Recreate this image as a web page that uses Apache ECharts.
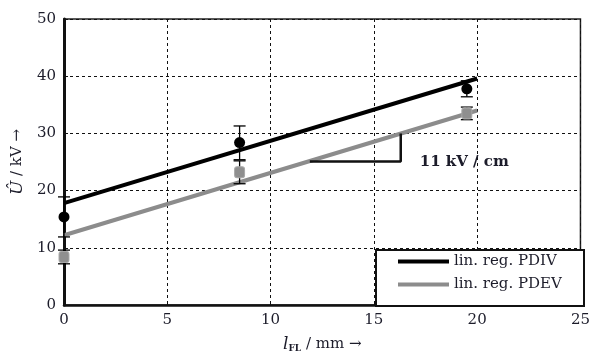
<!DOCTYPE html>
<html>
<head>
<meta charset="utf-8">
<script src="https://cdn.jsdelivr.net/npm/echarts@6/dist/echarts.min.js"></script>
<style>html,body{margin:0;padding:0;background:#fff}#c{width:593px;height:358px}</style>
</head>
<body>
<div id="c"></div>
<script>
// ---- data ----
const xTicks = [0, 5, 10, 15, 20, 25];
const yTicks = [0, 10, 20, 30, 40, 50];
const measX = [0, 8.5, 19.5];
const pdivMean = [15.4, 28.4, 37.8];
const pdivLow = [11.9, 25.4, 36.4];
const pdivHigh = [18.9, 31.3, 39.2];
const pdevMean = [8.4, 23.2, 33.5];
const pdevLow = [7.2, 21.2, 32.4];
const pdevHigh = [9.6, 25.2, 34.6];
const regX = [0, 20];
const pdivReg = [17.8, 39.6];
const pdevReg = [12.2, 34.0];
const slopeX = [11.9, 16.3, 16.3];
const slopeY = [25.1, 25.1, 30.0];
const slopeLabel = '11 kV / cm';
const seriesNames = ['lin. reg. PDIV', 'lin. reg. PDEV'];

const FONT = 'DejaVu Serif';
const TXT = '#1c1c2a';
const zip = (a, b) => a.map((v, i) => [v, b[i]]);
const zip3 = (a, b, c) => a.map((v, i) => [v, b[i], c[i]]);

function errBar(params, api) {
  const x = api.value(0), lo = api.value(1), hi = api.value(2);
  const p1 = api.coord([x, lo]), p2 = api.coord([x, hi]);
  const hw = 6;
  const st = { stroke: '#000', lineWidth: 1.3 };
  return { type: 'group', children: [
    { type: 'line', shape: { x1: p1[0], y1: p1[1], x2: p2[0], y2: p2[1] }, style: st },
    { type: 'line', shape: { x1: p1[0] - hw, y1: p1[1], x2: p1[0] + hw, y2: p1[1] }, style: st },
    { type: 'line', shape: { x1: p2[0] - hw, y1: p2[1], x2: p2[0] + hw, y2: p2[1] }, style: st }
  ]};
}

const chart = echarts.init(document.getElementById('c'), null, { renderer: 'canvas' });
chart.setOption({
  animation: false,
  backgroundColor: '#fff',
  textStyle: { fontFamily: FONT },
  grid: { left: 64, right: 10, top: 19, bottom: 53, show: true, borderColor: '#222', borderWidth: 1.5, backgroundColor: 'transparent' },
  xAxis: {
    type: 'value', min: xTicks[0], max: xTicks[xTicks.length - 1], interval: 5,
    axisLine: { lineStyle: { color: '#111', width: 2.5 } },
    axisTick: { show: true, inside: true, length: 4, lineStyle: { color: '#111', width: 1 } },
    axisLabel: { color: TXT, fontFamily: FONT, fontSize: 15, margin: 8 },
    splitLine: { show: true, lineStyle: { color: '#111', type: [3, 3], width: 1 } },
    name: '{i|l}{sub|FL}{n| / mm →}', nameLocation: 'middle', nameGap: 31,
    nameTextStyle: { rich: {
      i: { fontFamily: FONT, fontStyle: 'italic', fontSize: 17, color: TXT },
      sub: { fontFamily: FONT, fontSize: 9, fontWeight: 'bold', color: TXT, verticalAlign: 'bottom', padding: [8, 0, 0, 0] },
      n: { fontFamily: FONT, fontSize: 15, color: TXT }
    } }
  },
  yAxis: {
    type: 'value', min: yTicks[0], max: yTicks[yTicks.length - 1], interval: 10,
    axisLine: { lineStyle: { color: '#111', width: 3 } },
    axisTick: { show: true, inside: true, length: 4, lineStyle: { color: '#111', width: 1 } },
    axisLabel: { color: TXT, fontFamily: FONT, fontSize: 15, margin: 8 },
    splitLine: { show: true, lineStyle: { color: '#111', type: [3, 3], width: 1 } },
    name: '{i|Û}{n| / kV →}', nameLocation: 'middle', nameGap: 31, nameRotate: 90,
    nameTextStyle: { rich: {
      i: { fontFamily: FONT, fontStyle: 'italic', fontSize: 17, color: TXT },
      n: { fontFamily: FONT, fontSize: 15, color: TXT }
    } }
  },
  legend: {
    data: seriesNames, orient: 'vertical', left: 398, top: 254, itemGap: 8,
    itemWidth: 51, itemHeight: 4, icon: 'rect', z: 10,
    textStyle: { fontFamily: FONT, fontSize: 15, color: TXT, padding: [0, 0, 0, 0] },
    padding: 0
  },
  graphic: [{
    type: 'rect', z: 9, left: 375, top: 249,
    shape: { width: 208, height: 56 },
    style: { fill: '#fff', stroke: '#111', lineWidth: 2 }
  }],
  series: [
    { name: seriesNames[0], type: 'line', data: zip(regX, pdivReg), showSymbol: false, symbol: 'none',
      lineStyle: { color: '#000', width: 4 }, itemStyle: { color: '#000' }, z: 3 },
    { name: seriesNames[1], type: 'line', data: zip(regX, pdevReg), showSymbol: false, symbol: 'none',
      lineStyle: { color: '#8c8c8c', width: 4 }, itemStyle: { color: '#8c8c8c' }, z: 3 },
    { type: 'custom', renderItem: errBar, data: zip3(measX, pdivLow, pdivHigh), clip: false, z: 4 },
    { type: 'custom', renderItem: errBar, data: zip3(measX, pdevLow, pdevHigh), clip: false, z: 4 },
    { type: 'scatter', data: zip(measX, pdivMean), symbol: 'circle', symbolSize: 11,
      itemStyle: { color: '#000', opacity: 1 }, clip: false, z: 5 },
    { type: 'scatter', data: zip(measX, pdevMean), symbol: 'roundRect', symbolSize: [10, 11],
      itemStyle: { color: '#8f8f8f', borderColor: '#a8a8a8', borderWidth: 1, opacity: 1 }, clip: false, z: 5 },
    { type: 'line', data: zip(slopeX, slopeY), symbol: 'none', lineStyle: { color: '#111', width: 2.5 }, z: 3,
      markPoint: { symbol: 'circle', symbolSize: 0,
        data: [{ coord: [slopeX[2], slopeY[0]], value: slopeLabel }],
        label: { show: true, formatter: slopeLabel, position: 'right', distance: 19, offset: [0, 1],
          fontFamily: FONT, fontWeight: 'bold', fontSize: 15, color: TXT } } }
  ]
});
</script>
</body>
</html>
